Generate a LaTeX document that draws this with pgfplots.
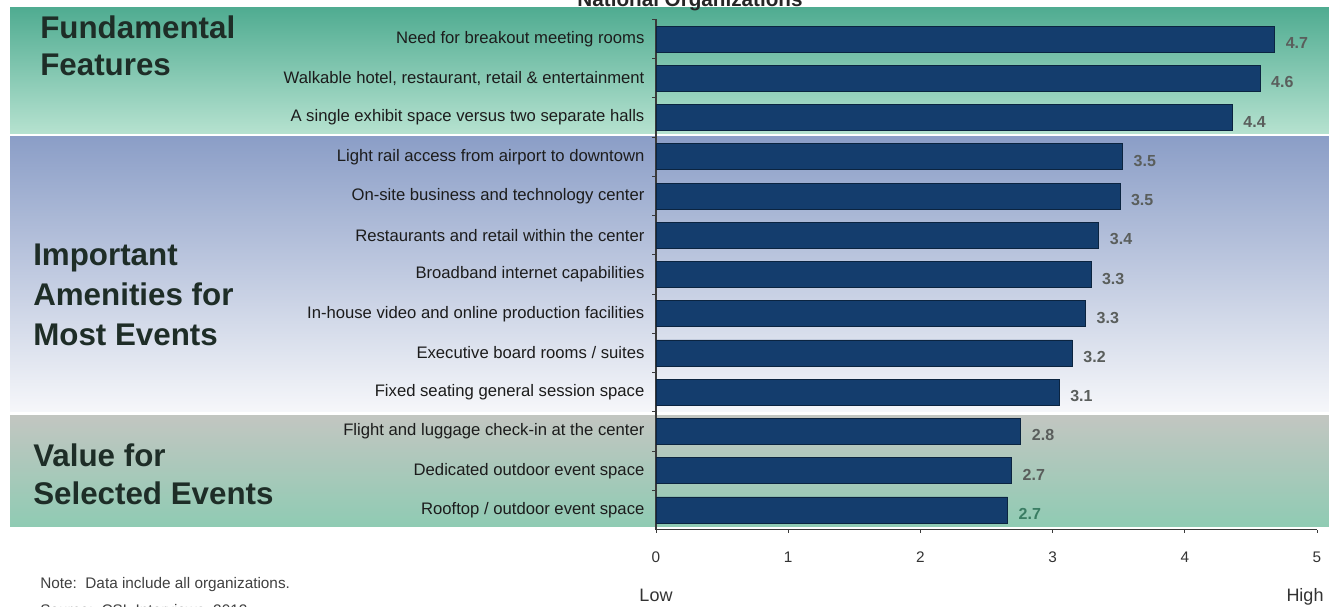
\documentclass[border=0pt]{standalone}
\usepackage{pgfplots}
\pgfplotsset{compat=1.18}
\usepackage{fontspec}
\setmainfont{Liberation Sans}
\definecolor{barfill}{HTML}{143D6D}
\definecolor{bardraw}{HTML}{0B2440}
\definecolor{valc}{HTML}{5A5E5C}
\definecolor{valgreen}{HTML}{3A7D63}
\definecolor{headc}{HTML}{1E2D27}
\definecolor{labc}{HTML}{1C1C1C}
\definecolor{axisc}{HTML}{3A3A3A}
\definecolor{bandAtop}{HTML}{50AC91}
\definecolor{bandAbot}{HTML}{B6E2D0}
\definecolor{bandBtop}{HTML}{8B9EC7}
\definecolor{bandBmid}{HTML}{C3CEE2}
\definecolor{bandBbot}{HTML}{F6F7FA}
\definecolor{bandCtop}{HTML}{C2C6C1}
\definecolor{bandCbot}{HTML}{8FCBB3}
\begin{document}
\begin{tikzpicture}[x=0.75pt,y=0.75pt]
\useasboundingbox (0,0) rectangle (1329,607);
\fill[white] (0,0) rectangle (1329,607);
% background bands
\shade[top color=bandAtop,bottom color=bandAbot] (10,473) rectangle (1329,599);
\shade[top color=bandBtop,middle color=bandBmid,bottom color=bandBbot] (10,195) rectangle (1329,470);
\shade[top color=bandCtop,bottom color=bandCbot] (10,80) rectangle (1329,191);
% group headings
\node[anchor=west,align=left,inner sep=0pt,text=headc,font=\fontsize{23.5}{27.75}\selectfont\bfseries] at (40,561) {Fundamental\\Features};
\node[anchor=west,align=left,inner sep=0pt,text=headc,font=\fontsize{23.5}{30}\selectfont\bfseries] at (33,312) {Important\\Amenities for\\Most Events};
\node[anchor=west,align=left,inner sep=0pt,text=headc,font=\fontsize{23.5}{28.5}\selectfont\bfseries] at (33,133) {Value for\\Selected Events};
% title (cut at top)
\node[anchor=base,inner sep=0pt,font=\fontsize{15.5}{17}\selectfont\bfseries,text=black!85] at (690,600) {National Organizations};
% notes
\node[anchor=base west,inner sep=0pt,font=\fontsize{11.5}{13}\selectfont,text=black!75] at (40,18) {Note:\ \ Data include all organizations.};
\node[anchor=base west,inner sep=0pt,font=\fontsize{11.5}{13}\selectfont,text=black!75] at (40,-9) {Source:\ \ CSL Interviews, 2012};
\node[anchor=base,inner sep=0pt,font=\fontsize{13.5}{15}\selectfont,text=black!80] at (656,5) {Low};
\node[anchor=base,inner sep=0pt,font=\fontsize{13.5}{15}\selectfont,text=black!80] at (1305,5) {High};
\begin{axis}[
  at={(492pt,58.05pt)}, anchor=south west,
  scale only axis, width=495.75pt, height=382.65pt,
  xmin=0, xmax=5, ymin=0.5, ymax=13.5, y dir=reverse,
  xbar, bar width=19.5pt, bar shift=0pt,
  axis x line*=bottom, axis y line*=left,
  x axis line style={-}, y axis line style={-},
  axis line style={draw=axisc,line width=0.8pt},
  xtick={0,1,2,3,4,5},
  ytick={1,2,3,4,5,6,7,8,9,10,11,12,13},
  minor ytick={0.5,1.5,2.5,3.5,4.5,5.5,6.5,7.5,8.5,9.5,10.5,11.5,12.5},
  every major y tick/.style={draw=none},
  tick align=outside,
  tick style={draw=axisc,line width=0.6pt},
  major tick length=2.5pt, minor tick length=3pt,
  yticklabels={
    Need for breakout meeting rooms,
    {Walkable hotel, restaurant, retail \& entertainment},
    A single exhibit space versus two separate halls,
    Light rail access from airport to downtown,
    On-site business and technology center,
    Restaurants and retail within the center,
    Broadband internet capabilities,
    In-house video and online production facilities,
    Executive board rooms / suites,
    Fixed seating general session space,
    Flight and luggage check-in at the center,
    Dedicated outdoor event space,
    Rooftop / outdoor event space},
  yticklabel style={font=\fontsize{12.5}{14}\selectfont,text=labc,inner sep=0pt,xshift=-6pt},
  xticklabel style={font=\fontsize{11.5}{13}\selectfont,text=black!80,inner sep=0pt,yshift=-14pt},
  /pgf/number format/assume math mode=true,
  point meta=explicit symbolic,
  nodes near coords,
  every node near coord/.append style={font=\fontsize{12}{14}\selectfont\bfseries,text=valc,anchor=west,xshift=8pt,yshift=-3pt,inner sep=0pt},
  clip=false,
]
\addplot[fill=barfill,draw=bardraw,line width=0.6pt] coordinates {
(4.68,1) [4.7]
(4.57,2) [4.6]
(4.36,3) [4.4]
(3.53,4) [3.5]
(3.51,5) [3.5]
(3.35,6) [3.4]
(3.29,7) [3.3]
(3.25,8) [3.3]
(3.15,9) [3.2]
(3.05,10) [3.1]
(2.76,11) [2.8]
(2.69,12) [2.7]
(2.66,13) [{\color{valgreen}2.7}]
};
\end{axis}
\end{tikzpicture}
\end{document}
